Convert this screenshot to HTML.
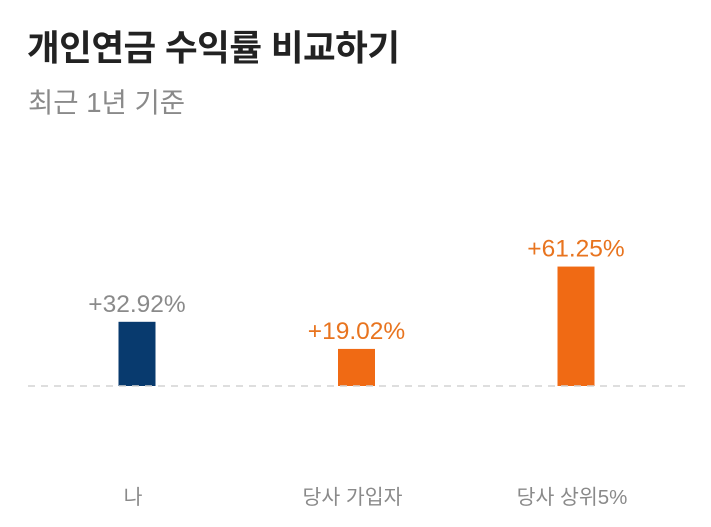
<!DOCTYPE html>
<html><head><meta charset="utf-8"><style>
body{margin:0;width:711px;height:527px;background:#fff;overflow:hidden;font-family:"Liberation Sans","Noto Sans CJK KR",sans-serif;}
#title{position:absolute;left:27px;top:27px;font-size:35.5px;line-height:42px;font-weight:bold;color:#222;letter-spacing:-0.5px;}
#sub{position:absolute;left:28px;top:87px;font-size:27.5px;line-height:32px;color:#8a8a8a;}
svg{position:absolute;left:0;top:0;}
</style></head><body>
<div id="title">개인연금 수익률 비교하기</div>
<div id="sub">최근 1년 기준</div>
<svg id="chart" width="711" height="527"></svg>
<script>
const categories=["나","당사 가입자","당사 상위5%"];
const values=[32.92,19.02,61.25];
const labels=["+32.92%","+19.02%","+61.25%"];
const colors=["#083a6e","#f06a14","#f06a14"];
const labelColors=["#8a8a8a","#e8741f","#e8741f"];
const NS="http://www.w3.org/2000/svg";
const svg=document.getElementById('chart');
const baseY=386, scale=1.95;
const y=v=>baseY-v*scale;
const x=i=>137+i*219.5;
const bw=37;
function mk(t,a){const e=document.createElementNS(NS,t);for(const k in a)e.setAttribute(k,a[k]);svg.appendChild(e);return e;}
categories.forEach((c,i)=>{
  const r=mk('rect',{x:x(i)-bw/2,y:y(values[i]),width:bw,height:baseY-y(values[i]),fill:colors[i]});
  
  
  const t=mk('text',{x:x(i),y:y(values[i])-10,'text-anchor':'middle','font-size':24.5,fill:labelColors[i]});
  t.textContent=labels[i];
  
  
  const l=mk('text',{x:x(i)-4,y:504,'text-anchor':'middle','font-size':20.5,fill:'#8a8a8a'});
  l.textContent=c;
  
  
});
const base=mk('line',{x1:28,x2:690,y1:baseY,y2:baseY,stroke:'#d4d4d4','stroke-width':1.5,'stroke-dasharray':'7,6'});


</script>
</body></html>
